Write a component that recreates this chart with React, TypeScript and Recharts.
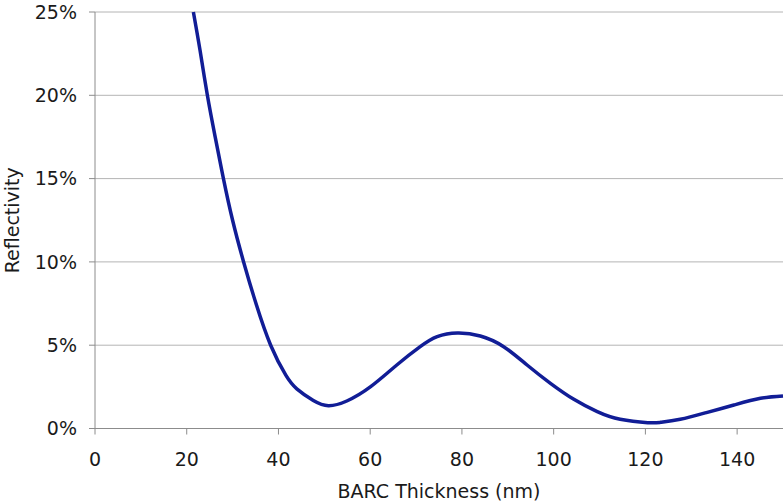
import React from 'react';
import { LineChart, Line, XAxis, YAxis, CartesianGrid } from 'recharts';

const thickness = [21.45, 22.9, 24.5, 26.2, 28.0, 30.0, 32.4, 35.1, 38.3, 41.6, 44.0, 47.6, 50.9, 54.9, 60.1, 65.8, 70.9, 74.6, 79.0, 84.0, 89.1, 94.2, 99.3, 104.4, 109.5, 114.5, 120.5, 123.3, 127.6, 133.5, 139.3, 145.1, 150];
const reflectivity = [25, 22.7, 20, 17.5, 15, 12.5, 10, 7.5, 5, 3.2, 2.38, 1.68, 1.37, 1.65, 2.51, 3.81, 4.91, 5.51, 5.73, 5.55, 4.91, 3.81, 2.71, 1.75, 1.01, 0.55, 0.35, 0.37, 0.55, 0.97, 1.41, 1.81, 1.95];
const xTicks = [0, 20, 40, 60, 80, 100, 120, 140];
const yTicks = [0, 5, 10, 15, 20, 25];

const data = thickness.map((t, i) => ({ t, r: reflectivity[i] }));

const font = 'DejaVu Sans';
const textColor = '#1a1a1a';
const axisColor = '#8c8c8c';

export default function App() {
  return (
    <div style={{ position: 'absolute', left: 0, top: 0, width: 784, height: 504, background: '#fff' }}>
      <LineChart width={784} height={504} data={data} margin={{ top: 12, right: 1, bottom: 0, left: 0 }}>
        <CartesianGrid vertical={false} stroke="#b4b4b4" strokeWidth={1} />
        <XAxis
          dataKey="t"
          type="number"
          domain={[0, 150]}
          ticks={xTicks}
          height={75.5}
          stroke={axisColor}
          tickSize={6}
          tickMargin={18}
          tick={{ fill: textColor, fontSize: 19, fontFamily: font }}
          label={{ value: 'BARC Thickness (nm)', position: 'insideBottom', offset: 6, fill: textColor, fontSize: 19, fontFamily: font }}
        />
        <YAxis
          type="number"
          domain={[0, 25]}
          ticks={yTicks}
          width={95}
          stroke={axisColor}
          tickSize={6}
          tickMargin={12}
          tickFormatter={(v: number) => `${v}%`}
          tick={{ fill: textColor, fontSize: 19, fontFamily: font }}
          label={{ value: 'Reflectivity', angle: -90, position: 'insideLeft', offset: 12, fill: textColor, fontSize: 19, fontFamily: font, style: { textAnchor: 'middle' } }}
        />
        <Line dataKey="r" type="natural" stroke="#111d96" strokeWidth={3.5} dot={false} isAnimationActive={false} />
      </LineChart>
    </div>
  );
}
